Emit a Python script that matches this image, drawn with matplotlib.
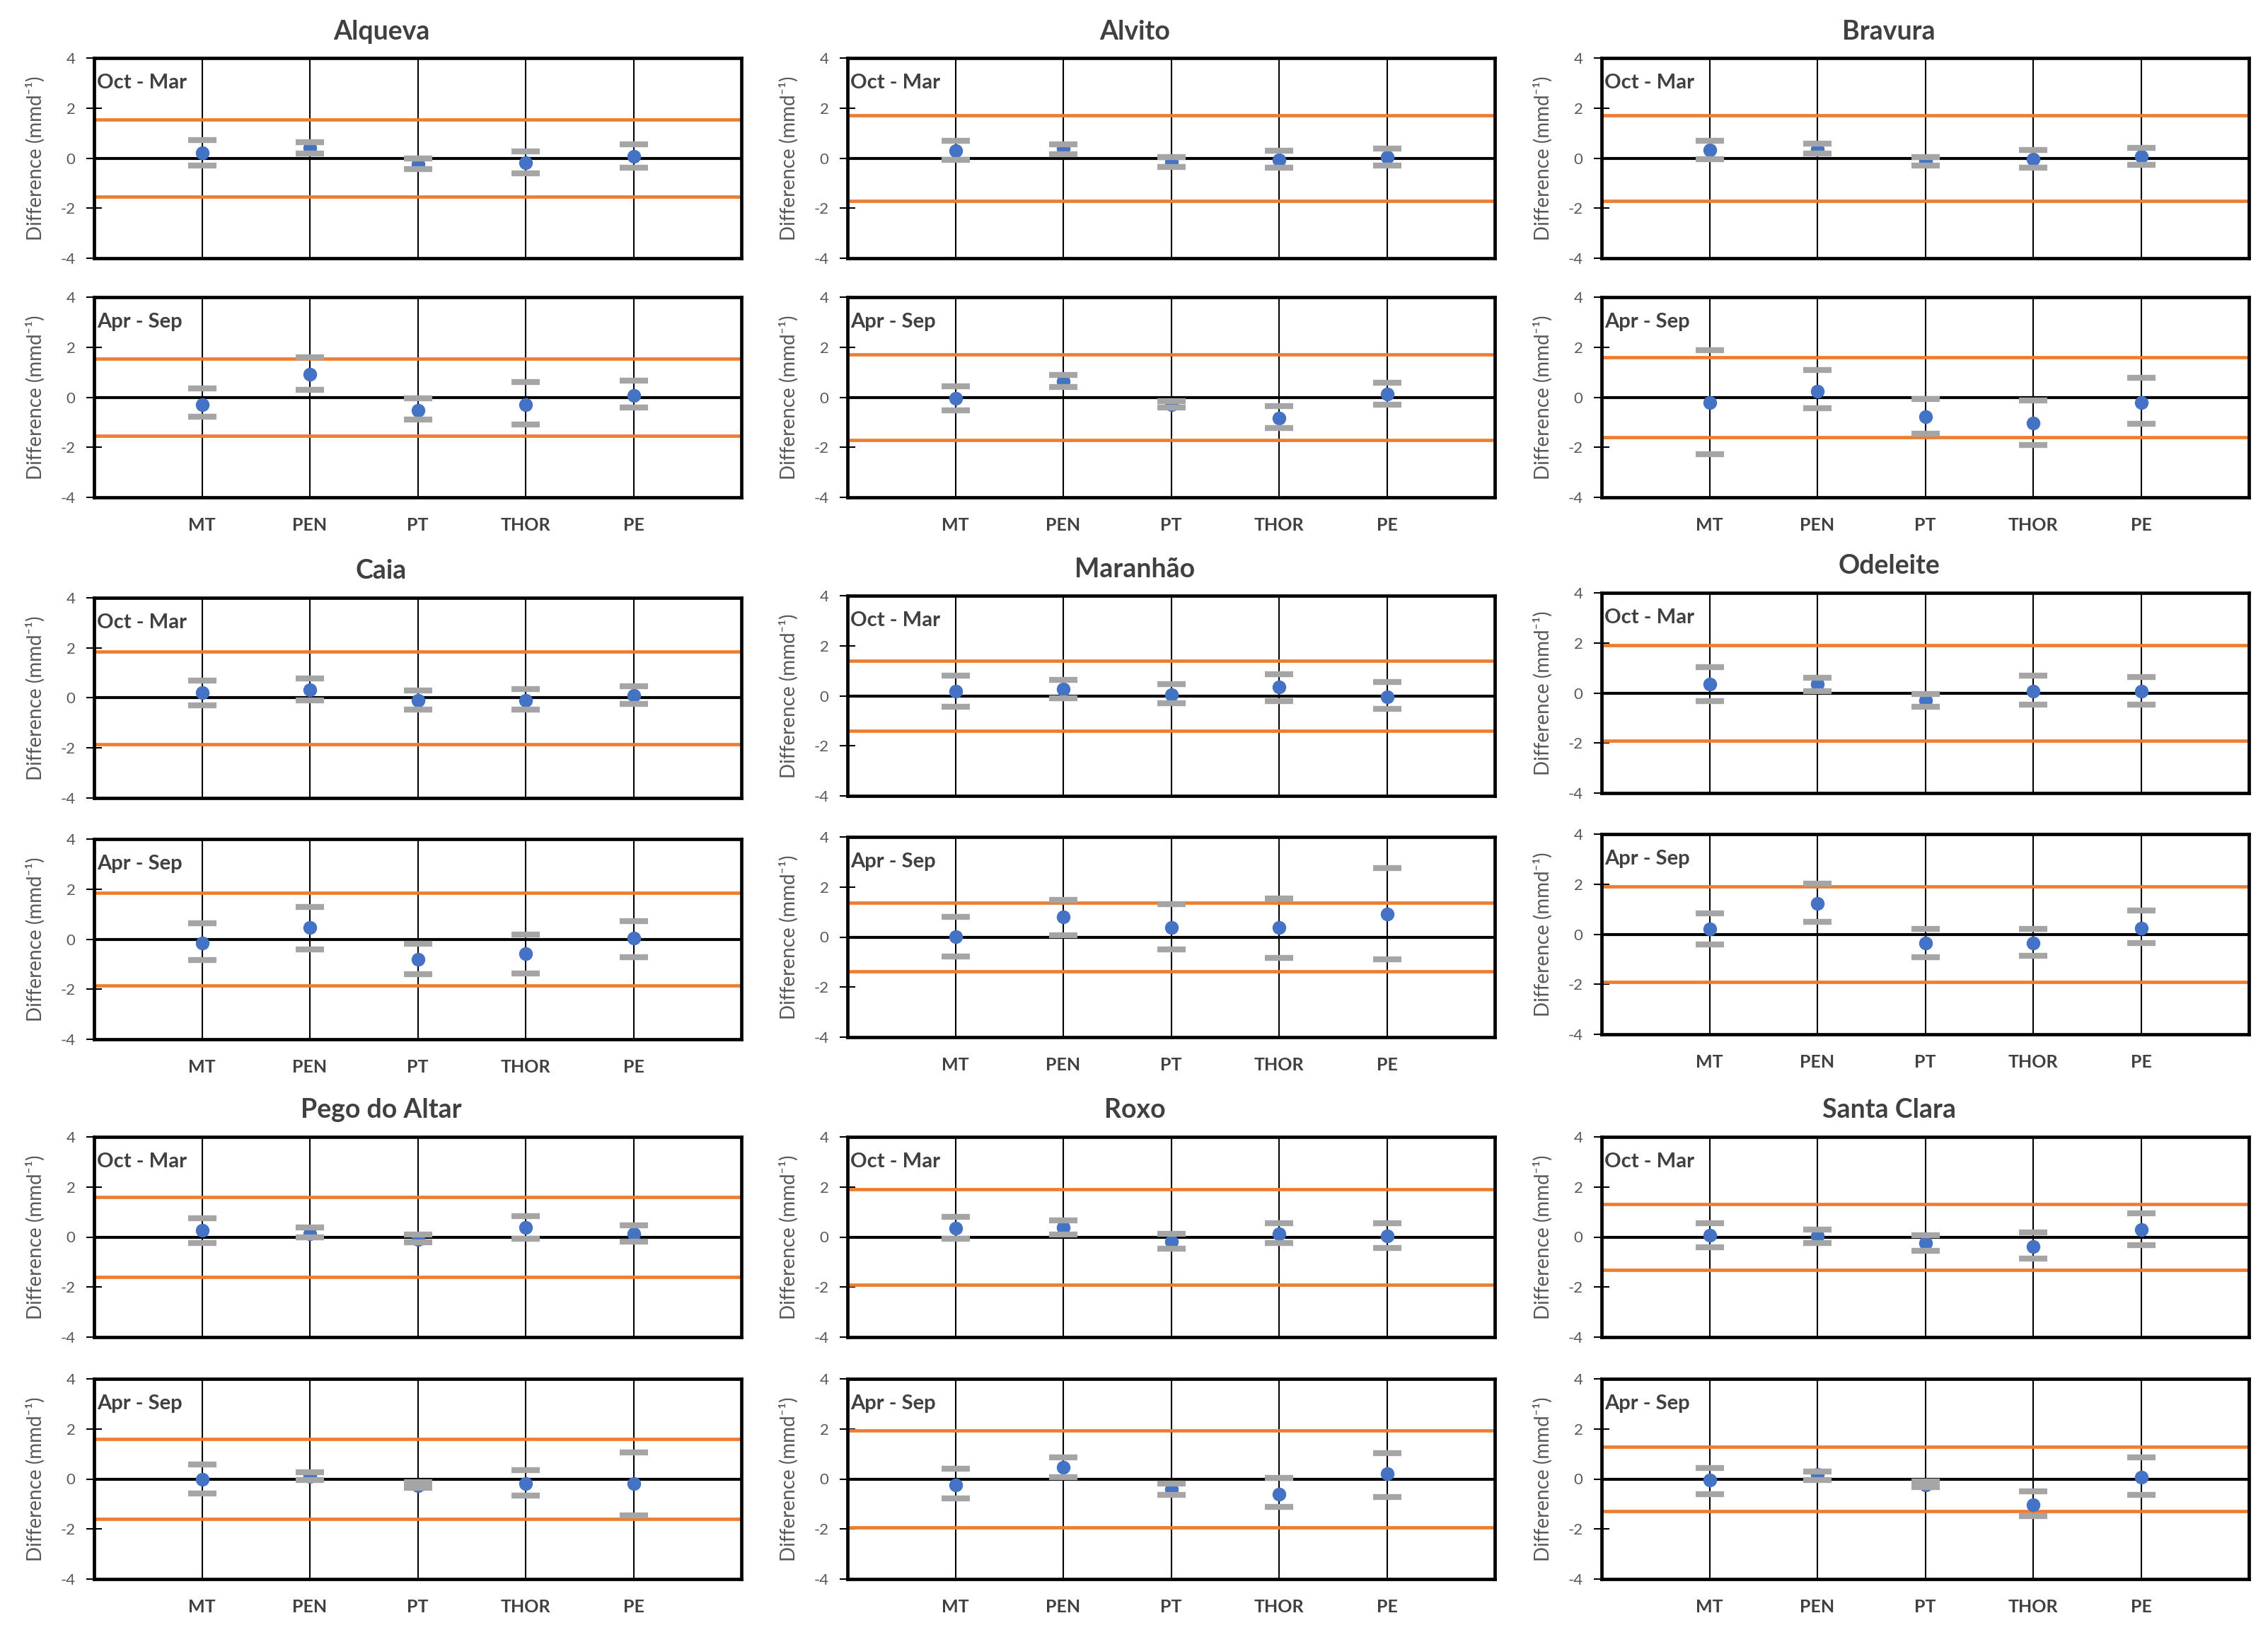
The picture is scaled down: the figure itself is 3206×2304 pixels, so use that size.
import numpy as np
import matplotlib.pyplot as plt

plt.rcParams["font.family"] = ["Lato", "DejaVu Sans"]
plt.rcParams["axes.unicode_minus"] = False

# ----------------------------------------------------------------------------
# Data
# ----------------------------------------------------------------------------
CATEGORIES = ["MT", "PEN", "PT", "THOR", "PE"]
RESERVOIRS = ["Alqueva", "Alvito", "Bravura",
              "Caia", "Maranhão", "Odeleite",
              "Pego do Altar", "Roxo", "Santa Clara"]
SEASONS = ["Oct - Mar", "Apr - Sep"]

# Oct - Mar: mean difference and the two cap levels, one row per reservoir
WET_MEAN = [
    [0.20, 0.41, -0.25, -0.18, 0.07],
    [0.30, 0.37, -0.15, -0.07, 0.03],
    [0.33, 0.36, -0.14, -0.05, 0.07],
    [0.21, 0.33, -0.10, -0.10, 0.10],
    [0.18, 0.28, 0.04, 0.34, -0.03],
    [0.36, 0.34, -0.29, 0.07, 0.07],
    [0.26, 0.12, -0.10, 0.37, 0.14],
    [0.36, 0.37, -0.18, 0.12, 0.04],
    [0.06, 0.04, -0.23, -0.37, 0.30],
]
WET_UPPER = [
    [0.71, 0.64, 0.00, 0.26, 0.54],
    [0.68, 0.56, 0.05, 0.30, 0.38],
    [0.68, 0.57, 0.05, 0.33, 0.40],
    [0.69, 0.79, 0.30, 0.36, 0.47],
    [0.80, 0.65, 0.46, 0.86, 0.55],
    [1.04, 0.60, -0.04, 0.70, 0.65],
    [0.76, 0.38, 0.11, 0.84, 0.47],
    [0.81, 0.66, 0.14, 0.54, 0.54],
    [0.54, 0.30, 0.06, 0.19, 0.95],
]
WET_LOWER = [
    [-0.29, 0.18, -0.45, -0.61, -0.37],
    [-0.08, 0.16, -0.35, -0.39, -0.31],
    [-0.04, 0.18, -0.30, -0.37, -0.27],
    [-0.29, -0.10, -0.47, -0.46, -0.23],
    [-0.44, -0.10, -0.29, -0.21, -0.52],
    [-0.32, 0.07, -0.54, -0.48, -0.48],
    [-0.23, -0.02, -0.21, -0.07, -0.19],
    [-0.08, 0.11, -0.46, -0.25, -0.44],
    [-0.40, -0.25, -0.54, -0.86, -0.33],
]

# Apr - Sep
DRY_MEAN = [
    [-0.29, 0.92, -0.52, -0.29, 0.08],
    [-0.05, 0.64, -0.30, -0.82, 0.14],
    [-0.20, 0.25, -0.79, -1.03, -0.20],
    [-0.15, 0.46, -0.80, -0.57, 0.04],
    [0.01, 0.80, 0.39, 0.39, 0.92],
    [0.21, 1.22, -0.36, -0.36, 0.25],
    [0.00, 0.10, -0.27, -0.18, -0.18],
    [-0.24, 0.46, -0.40, -0.60, 0.21],
    [-0.04, 0.18, -0.24, -1.02, 0.08],
]
DRY_UPPER = [
    [0.35, 1.59, -0.04, 0.60, 0.67],
    [0.45, 0.88, -0.15, -0.34, 0.58],
    [1.88, 1.09, -0.07, -0.14, 0.78],
    [0.64, 1.30, -0.19, 0.18, 0.72],
    [0.81, 1.48, 1.31, 1.54, 2.77],
    [0.82, 2.02, 0.22, 0.22, 0.94],
    [0.57, 0.28, -0.14, 0.34, 1.06],
    [0.40, 0.86, -0.17, 0.04, 1.04],
    [0.45, 0.30, -0.10, -0.50, 0.86],
]
DRY_LOWER = [
    [-0.79, 0.31, -0.88, -1.10, -0.42],
    [-0.53, 0.42, -0.40, -1.22, -0.29],
    [-2.27, -0.45, -1.46, -1.90, -1.06],
    [-0.82, -0.42, -1.41, -1.36, -0.71],
    [-0.77, 0.08, -0.50, -0.83, -0.88],
    [-0.42, 0.49, -0.92, -0.87, -0.36],
    [-0.59, -0.04, -0.34, -0.66, -1.45],
    [-0.78, 0.07, -0.65, -1.13, -0.71],
    [-0.60, -0.05, -0.32, -1.47, -0.65],
]

# +/- threshold (orange lines) per reservoir
WET_THRESHOLD = [1.54, 1.72, 1.72, 1.85, 1.40, 1.90, 1.60, 1.92, 1.31]
DRY_THRESHOLD = [1.54, 1.72, 1.60, 1.86, 1.38, 1.91, 1.60, 1.93, 1.28]

# ----------------------------------------------------------------------------
# Style / layout (pixels of the 3206 x 2304 canvas)
# ----------------------------------------------------------------------------
BLUE = "#4472C4"
GREY = "#A5A5A5"
ORANGE = "#ED7D31"
DARK = "#404040"
MID = "#595959"

W, H = 3206, 2304
COL_LEFT = [133, 1198, 2264]
AX_W = 915
ROW_TOP = [(82, 420), (845, 1186), (1607, 1949)]
AX_H = 283
# the pasted charts are not perfectly aligned in the original
Y_SHIFT = [0, 0, 0, 0, -3, -7, 0, 0, 0]


def draw_panel(ax, mean, upper, lower, thr, season, show_x):
    x = np.arange(1, len(CATEGORIES) + 1)
    mean = np.asarray(mean)
    yerr = [mean - np.asarray(lower), np.asarray(upper) - mean]

    ax.set_xlim(0, 6)
    ax.set_ylim(-4, 4)
    ax.set_xticks(x)
    ax.set_yticks([-4, -2, 0, 2, 4])
    ax.grid(axis="x", color="black", lw=1.5, zorder=1)
    ax.set_axisbelow(True)

    ax.axhline(thr, color=ORANGE, lw=3.4, zorder=2)
    ax.axhline(-thr, color=ORANGE, lw=3.4, zorder=2)
    ax.axhline(0, color="black", lw=3.0, zorder=2)

    eb = ax.errorbar(x, mean, yerr=yerr, fmt="o", color=BLUE, ms=13,
                     ecolor=GREY, elinewidth=0, capsize=14.5, capthick=6,
                     barsabove=True, zorder=3)
    for c in eb[2]:
        c.set_visible(False)

    for s in ax.spines.values():
        s.set_linewidth(3.4)
        s.set_color("black")

    ax.tick_params(axis="y", direction="inout", length=16, width=1.5,
                   labelsize=16, labelcolor=MID, pad=11)
    ax.tick_params(axis="x", length=0, pad=20)
    if show_x:
        ax.set_xticklabels(CATEGORIES, fontsize=18, fontweight="bold",
                           color=DARK)
    else:
        ax.set_xticklabels([])

    ax.set_ylabel("Difference (mmd\u207b\u00b9)", fontsize=20, color=MID,
                  labelpad=16)
    ax.text(0.004, 0.875, season, transform=ax.transAxes, ha="left",
            va="center", fontsize=21, fontweight="bold", color=DARK)


def main():
    fig = plt.figure(figsize=(W / 100, H / 100), dpi=100)

    for i, name in enumerate(RESERVOIRS):
        row, col = divmod(i, 3)
        left = COL_LEFT[col] / W
        panels = [
            (WET_MEAN[i], WET_UPPER[i], WET_LOWER[i], WET_THRESHOLD[i]),
            (DRY_MEAN[i], DRY_UPPER[i], DRY_LOWER[i], DRY_THRESHOLD[i]),
        ]
        for k, (m, u, lo, t) in enumerate(panels):
            top = ROW_TOP[row][k] + Y_SHIFT[i]
            ax = fig.add_axes([left, 1 - (top + AX_H) / H, AX_W / W, AX_H / H])
            draw_panel(ax, m, u, lo, t, SEASONS[k], show_x=(k == 1))
            if k == 0:
                # titles sit a little left of the plot-area centre
                ax.annotate(name, xy=(0.5, 1), xycoords="axes fraction",
                            xytext=(-37, 27), textcoords="offset points",
                            ha="center", va="center", fontsize=27,
                            fontweight="bold", color=DARK)

    fig.savefig("out.png", dpi=100, facecolor="white")
    plt.close(fig)


if __name__ == "__main__":
    main()
